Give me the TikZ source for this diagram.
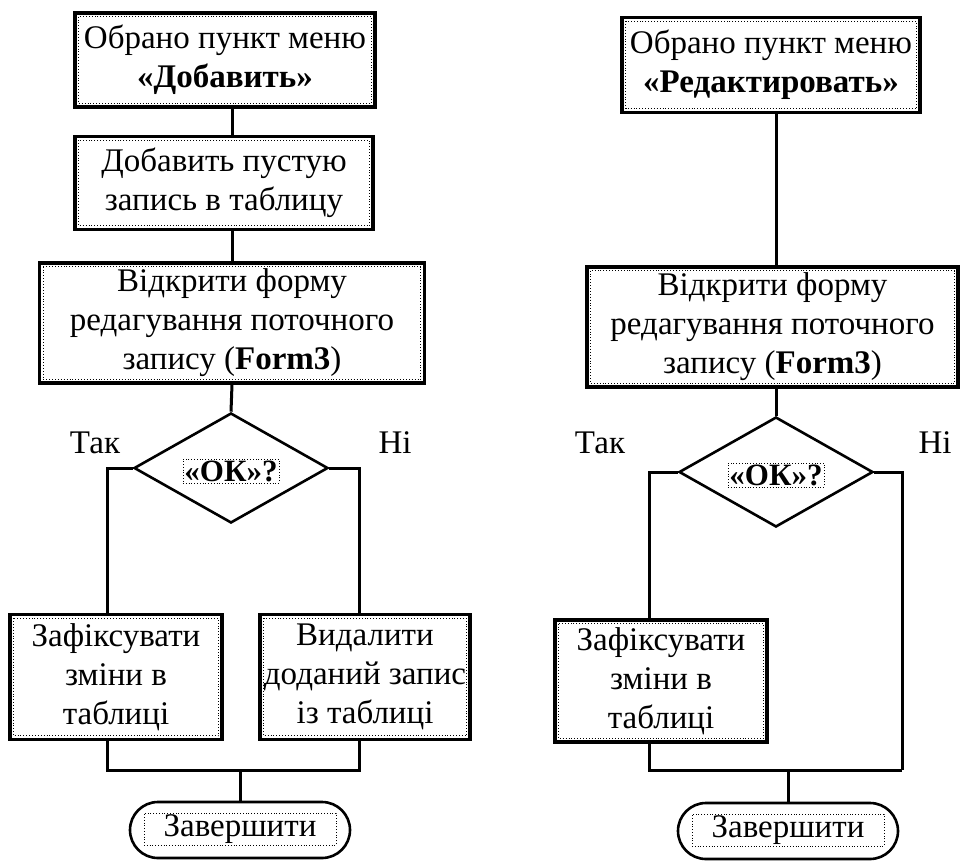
\documentclass[tikz,border=0pt]{standalone}
\usepackage{fontspec}
\setmainfont{Liberation Serif}
\usetikzlibrary{shapes.geometric,shapes.misc}
\begin{document}
\begin{tikzpicture}[x=1pt,y=-1pt,
  every node/.style={font=\fontsize{33}{39}\selectfont},
  dotin/.style={path picture={\draw[line width=0.9pt, dotted]
     ([shift={(3.6pt,-3.6pt)}]path picture bounding box.north west) rectangle
     ([shift={(-3.6pt,3.6pt)}]path picture bounding box.south east);}},
  procbox/.style={draw, line width=3.2pt, align=center, inner sep=0pt, dotin},
  decision/.style={diamond, draw, line width=2.6pt, inner sep=0pt, aspect=1.76,
     minimum width=194pt, minimum height=110pt},
  dtext/.style={draw, dotted, line width=0.8pt, inner sep=1.5pt, font=\fontsize{31}{38}\selectfont\bfseries},
  term/.style={rounded rectangle, draw, line width=2.6pt, minimum width=220pt, minimum height=56pt, inner sep=0pt},
  ttext/.style={draw, dotted, line width=0.8pt, inner sep=0pt, minimum width=192pt, minimum height=32pt},
  conn/.style={line width=3pt},
  lbl/.style={inner sep=0pt}]
\useasboundingbox (0,0) rectangle (961,865);
\fill[white] (0,0) rectangle (961,865);

% ---------- left flow ----------
\node[procbox, minimum width=300pt, minimum height=94pt] (a1) at (225,60)
  {Обрано пункт меню\\\textbf{«Добавить»}};
\node[procbox, minimum width=298pt, minimum height=93pt] (a2) at (224,183)
  {Добавить пустую\\запись в таблицу};
\node[procbox, minimum width=385pt, minimum height=120pt] (a3) at (232,323)
  {Відкрити форму\\редагування поточного\\запису (\textbf{Form3})};
\node[decision] (d1) at (231,468) {};
\node[dtext] (d1t) at (231,471) {«ОК»?};
\node[procbox, minimum width=212pt, minimum height=125pt] (b1) at (116,677)
  {Зафіксувати\\зміни в\\таблиці};
\node[procbox, minimum width=210pt, minimum height=125pt] (b2) at (365,677)
  {Видалити\\доданий запис\\із таблиці};
\node[term] (t1) at (240,830) {};
\node[ttext] (t1t) at (240,829) {Завершити};
\node[lbl] (yes1) at (95,443) {Так};
\node[lbl] (no1) at (395,443) {Ні};

\coordinate (lx) at (107,0);
\coordinate (rx) at (359,0);
\coordinate (m1) at (240,770);

\draw[conn] (a1.south -| a3.north) -- (a2.north -| a3.north);
\draw[conn] (a2.south -| a3.north) -- (a3.north);
\draw[conn] (a3.south) -- (d1.north);
\draw[conn] (d1.west) -| (lx |- b1.north);
\draw[conn] (d1.east) -| (rx |- b2.north);
\draw[conn] (lx |- b1.south) -- (lx |- m1) -- (rx |- m1) -- (rx |- b2.south);
\draw[conn] (m1) -- (t1.north);

% ---------- right flow ----------
\node[procbox, minimum width=298pt, minimum height=95pt] (c1) at (771,65)
  {Обрано пункт меню\\\textbf{«Редактировать»}};
\node[procbox, minimum width=371pt, minimum height=120pt] (c3) at (772.5,327)
  {Відкрити форму\\редагування поточного\\запису (\textbf{Form3})};
\node[decision] (d2) at (776,472) {};
\node[dtext] (d2t) at (776,475) {«ОК»?};
\node[procbox, minimum width=212pt, minimum height=122pt] (e1) at (661,681)
  {Зафіксувати\\зміни в\\таблиці};
\node[term] (t2) at (788,831) {};
\node[ttext] (t2t) at (788,830) {Завершити};
\node[lbl] (yes2) at (600,443) {Так};
\node[lbl] (no2) at (935,443) {Ні};

\coordinate (lx2) at (649,0);
\coordinate (rx2) at (902,0);
\coordinate (m2) at (788,770);

\draw[conn] (c1.south -| d2.north) -- (c3.north -| d2.north);
\draw[conn] (c3.south -| d2.north) -- (d2.north);
\draw[conn] (d2.west) -| (lx2 |- e1.north);
\draw[conn] (d2.east) -| (rx2 |- m2);
\draw[conn] (lx2 |- e1.south) -- (lx2 |- m2) -- (rx2 |- m2);
\draw[conn] (m2) -- (t2.north);
\end{tikzpicture}
\end{document}
